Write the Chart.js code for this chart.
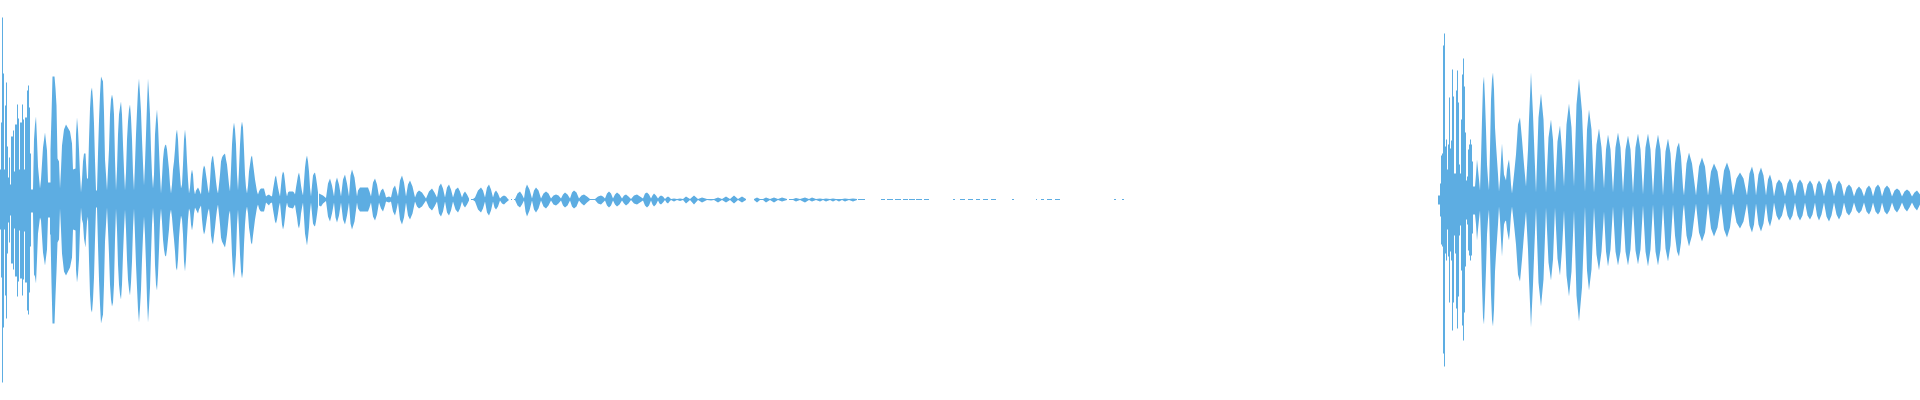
<!DOCTYPE html>
<html>
<head>
<meta charset="utf-8">
<title>Waveform</title>
<script src="https://cdn.jsdelivr.net/npm/chart.js@4"></script>
<style>
  html, body { margin: 0; padding: 0; background: #fff; }
  canvas { display: block; }
</style>
</head>
<body>
<canvas id="wave" width="1920" height="400"></canvas>
<script>
// attack transients, read column by column (held until the next time)
const attackTime = [
  0,1,2,3,4,5,6,7,8,9,10,11,13,14,15,17,18,19,20,22,23,24,25,27,28,29,30,31,32,33,
  34,
  1438,1440,1441,1442,1443,1444,1445,1446,1447,1448,1449,1450,1451,1452,1453,1454,1455,1456,
  1457,1458,1459,1460,1461,1462,1463,1464,1465,1466,1467,1468,1469,1470,1471,1472,1473,1474,1475
];
const attackUpper = [
  103,30,77,182,126,30,94,117,53,22,42,15,63,69,28,75,95,81,30,77,95,80,30,82,109,114,92,46,10,10,
  null,
  1,4,16,44,46,154,166,53,60,30,55,102,51,59,130,103,26,26,
  109,129,97,35,26,80,125,141,113,67,19,23,50,55,60,55,38,13,13
];
const attackLower = [
  -105,-30,-78,-183,-128,-30,-96,-119,-54,-23,-43,-16,-64,-70,-29,-77,-97,-82,-31,-79,-96,-80,-32,-83,-111,-115,-93,-47,-13,-13,
  null,
  -1,-5,-17,-45,-47,-154,-167,-54,-61,-30,-57,-103,-52,-61,-131,-103,-36,-54,
  -109,-129,-97,-36,-26,-71,-126,-141,-113,-67,-20,-25,-51,-56,-61,-56,-34,-15,-15
];

// first decay, 33 to 318
const decayTimeA = [
  33,34,35,36,37,38,40,41,43,45,47,48,50,50.5,51.5,52.5,54.5,55.5,56.5,57.5,59,60,
  61,62,64,66,70,72,73,75.5,76,77,78,79,80,81,82,83,84,85.5,86,87,88,
  89,90,91,92,93,94,95,96,97,98,99,100,101,103,104,105,106,107,
  108,109,110,111,112,113,114,115,116,117,118,119,120,121,122,123,124,125,
  126,127,128,129,130,131,132,133,134,135,136,137,138,139,140,141,142,143,144,
  145,146,147,148,149,150,151,152,153,154,155,156,157,158,159,160,161,
  162,163,164,165,166,167,168,169,170,171,172,173,174,175,176,177,178,179,180,181,
  182,183,184,185,186,187,188,189,190,191,192,193,194,195,196,198,199,201,
  202,203,204,205,206,207,208,209,210,211,212,213,214,215,216,217,218,
  219,220,221,222,223,224,225,226,227,228,229,230,231,232,233,234,235,236,237,238,
  239,240,241,242,243,244,245,246,247,248,249,250,251,252,253,254,255,256,257,258,
  259,260,261,264,265,266,267,269,270,272,273,274,275,276,277,278,279,280,
  281,282,283,284,285,286,287,288,289,293,294,295,296,297,298,299,300,301,302,303,
  304,305,306,307,308,309,310,311,312,313,314,315,316,317,318
];
const decayUpperA = [
  10,60,75,83,60,33,11,20,52,67,49,17,17,50,84,123,123,111,94,41,38,11,
  30,54,70,75,68,56,30,31,65,82,70,50,25,7,20,38,46,46,37,21,21,
  60,91,108,112,99,76,39,9,9,46,79,105,123,118,87,40,25,9,
  30,50,85,100,105,100,85,40,9,30,65,85,92,98,85,55,30,9,
  27,60,78,90,95,82,60,27,9,36,65,88,110,121,105,88,60,36,14,
  36,65,95,121,105,85,50,25,11,25,65,80,90,75,50,25,6,
  22,40,50,54,55,50,40,30,15,6,15,30,38,50,65,70,60,38,25,11,
  15,35,60,70,60,38,20,6,12,25,30,25,10,5,9,12,10,5,
  20,30,34,32,25,18,10,6,18,36,42,44,36,28,18,10,6,
  15,25,38,42,44,45,46,40,35,25,15,8,30,55,70,77,70,55,25,9,
  30,55,72,78,72,50,25,12,6,14,28,35,42,44,36,28,20,14,8,5,
  8,10,11,11,7,3,4,5,4,3,10,16,22,24,18,12,7,3,
  14,24,28,26,18,8,3,7,8,8,7,5,12,18,24,27,22,14,8,4,
  18,32,40,44,38,28,12,3,14,24,26,27,22,15,7
];
const decayLowerA = [
  -13,-75,-77,-84,-60,-34,-18,-21,-53,-66,-50,-18,-18,-35,-84,-124,-124,-96,-72,-43,-40,-9,
  -30,-54,-72,-76,-68,-58,-30,-31,-70,-83,-75,-60,-30,-8,-20,-24,-39,-48,-38,-22,-17,
  -60,-95,-110,-113,-100,-78,-40,-8,-8,-46,-80,-105,-124,-115,-85,-42,-25,-8,
  -30,-55,-85,-100,-107,-103,-85,-40,-9,-30,-65,-85,-95,-100,-85,-55,-30,-10,
  -30,-60,-80,-90,-96,-83,-62,-28,-9,-36,-65,-88,-110,-123,-108,-90,-60,-36,-17,
  -36,-65,-100,-123,-108,-88,-55,-25,-8,-25,-65,-85,-91,-75,-50,-22,-9,
  -22,-40,-50,-56,-57,-50,-40,-30,-15,-10,-18,-30,-40,-52,-68,-71,-60,-38,-25,-16,
  -20,-35,-62,-72,-60,-38,-20,-9,-12,-25,-31,-25,-14,-8,-10,-14,-10,-6,
  -20,-30,-35,-32,-25,-18,-12,-9,-18,-36,-42,-45,-36,-28,-18,-10,-5,
  -15,-25,-38,-42,-44,-46,-48,-42,-35,-25,-15,-11,-30,-55,-72,-79,-70,-55,-25,-10,
  -30,-55,-72,-79,-72,-45,-25,-12,-7,-14,-28,-35,-43,-45,-36,-28,-20,-14,-8,-5,
  -9,-11,-12,-12,-8,-3,-4,-6,-4,-3,-10,-16,-22,-24,-20,-14,-7,-3,
  -14,-25,-30,-26,-18,-8,-3,-7,-8,-9,-7,-5,-12,-18,-26,-29,-24,-14,-8,-3,
  -18,-34,-40,-46,-38,-28,-12,-3,-14,-24,-26,-27,-22,-15,-7
];

// quieter lobes, 319 to 865, breaking up into pieces
const decayTimeB = [
  319,321,323,326,328,330,332,334,335.5,337,339,341,343,345,347,349,350.5,352,354.5,357,
  358,360,368,369.5,371,373,375,377,379,381,383,385,386,389,391,393,395,396.5,398,
  400,402,404,406,408,410,412.5,415,417,419,422,426,429,432,434.5,437,
  439,441,443,445,447,449,451,453,455.5,458,460,462,463.5,465,467,469,
  470,471,473,475,478,481,483,485,487,489,491,493,494.5,496,498,500,502,504,506,508,509,
  510,511,512,513,514,515,517.5,520,522,524,525.5,527,529.5,532,534,536,538.5,541,
  543.5,546,548.5,551,553.5,556,558.5,561,563,565,567.5,570,572,574,576.5,579,581.5,584,587,590,595,
  598,601,603,605,607,609,611,613,615,617,619.5,622,624,626,628.5,631,634,637,640,643,
  645,647,649,651,652.5,654,656,658,659.5,661,663,665,666.5,668,669.5,671,
  674,677,680,683,686,690,694,698,702,707,711,714,718,722,726,730,734,738,742,746,
  747,754,757,760,763,766,770,774,778,782,787,
  788,789,793,796,800,805,809,812,816,820,823,826,830,833,836,839,842,845,849,853,857,
  857.5,858,865
];
const decayUpperB = [
  6,5,4,1.5,16,21,14,3,17,22,15,3,20,25,16,3,24,30,22,3,
  9,12,12,8,3,17,21,15,3,9,11,6,2,3,2,11,14,9,3,
  19,24,17,3,15,19,13,2,7,9,7,1,8,11,7,2,
  13,16,11,2,12,15,10,2,10,12,8,2,6,8,5,1,
  null,0.5,0.5,2,9,12,9,2,12,15,10,2,7,9,6,1,3,4,3,0.5,0.5,
  null,0.5,0.5,null,0.5,0.5,6,8,5,1,11,15,10,1,9,12,9,1,
  6,8,6,1,4,5,4,1,5,7,5,1,7,9,7,1,4,5,3,0.5,0.5,
  3,4,3,1,6,8,6,1,5,7,5,1,4,5,3,0.5,4,5,3,1,
  6,7,5,1,4,6,4,1,3,4,3,0.5,2,3,2,0.5,
  1,0.5,1,0.5,3,0.5,4,0.5,2,0.5,0.5,0.5,2,0.5,3,0.5,4,0.5,3,0.5,
  null,0.5,2,0.5,0.5,2,0.5,2,0.5,2,0.5,
  null,0.5,0.5,1.5,0.5,2,0.5,2,0.5,1,0.5,1,0.5,1,0.5,0.5,0.5,1,0.5,1,0.5,
  null,0.5,0.5
];
const decayLowerB = [
  -6,-7,-4,-1.5,-17,-22,-14,-3,-18,-23,-16,-3,-20,-25,-16,-3,-24,-30,-22,-3,
  -9,-12,-12,-8,-3,-17,-21,-15,-3,-9,-12,-6,-2,-3,-2,-12,-16,-10,-3,
  -20,-25,-18,-3,-16,-20,-14,-2,-7,-9,-7,-1,-8,-11,-7,-2,
  -14,-17,-12,-2,-13,-16,-11,-2,-10,-13,-9,-2,-6,-8,-5,-1,
  null,-0.5,-0.5,-2,-10,-13,-9,-2,-13,-16,-11,-2,-8,-10,-7,-1,-4,-5,-3,-0.5,-0.5,
  null,-0.5,-0.5,null,-0.5,-0.5,-6,-8,-5,-1,-12,-17,-11,-1,-10,-13,-9,-1,
  -7,-9,-6,-1,-5,-6,-4,-1,-6,-8,-6,-1,-7,-9,-7,-1,-4,-6,-3,-0.5,-0.5,
  -4,-5,-3,-1,-6,-8,-6,-1,-5,-7,-5,-1,-4,-6,-4,-0.5,-4,-5,-3,-1,
  -6,-8,-6,-1,-5,-7,-5,-1,-4,-5,-3,-0.5,-3,-4,-2,-0.5,
  -2,-0.5,-1.5,-0.5,-4,-0.5,-5,-0.5,-3,-0.5,-1,-0.5,-3,-0.5,-3,-0.5,-4,-0.5,-3,-0.5,
  null,-0.5,-3,-0.5,-0.5,-3,-0.5,-3,-0.5,-2,-0.5,
  null,-0.5,-0.5,-2,-0.5,-3,-0.5,-2,-0.5,-2,-0.5,-2,-0.5,-2,-0.5,-2,-0.5,-2,-0.5,-2,-0.5,
  null,-0.5,-0.5
];

// isolated dashes at the end of the first sound
const dashStart = [881,887,895,903,909,916,924,953,960,968,976,983,991,1012,1036,1041,1047,1055,1114,1122];
const dashEnd   = [885,893,901,908,915,922,929,955,965,973,980,988,996,1014,1037,1044,1052,1060,1116,1124];

// second sound, after its attack
const lateTime = [
  1475,1476,1477,1478,1479,1480,1481,1482,1483,1484,1485,1486,1487,1488,1489,1490,1491,1492,1493,1494,1495,1496,1497,1498,1499,
  1500,1501,1502,1503,1504,1505,1506,1507,1508,1509,1510,1511,1512,1514,1516,1518,1520,1522,1524,1526,
  1528,1529,1531,1533,1534.5,1536,1538.5,1541,1543.5,1546,1548.5,1551,1553,1555,1557.5,1560,1562,1564,
  1566.5,1569,1571.5,1574,1576.5,1579,1582,1585,1587,1589,1591.5,1594,1596.5,1599,1601.5,1604,1606,1608,1610.5,1613,
  1615.5,1618,1620.5,1623,1625.5,1628,1630.5,1633,1635.5,1638,1640.5,1643,1645.5,1648,1650.5,1653,1655.5,1658,1660.5,1663,1665.5,1668,1670.5,1673,
  1675,1677,1679,1681,1683,1684,1686.5,1689,1692,1696,1699,1702,1705,1708,1711,1714,1717.5,1721,1724,1727,1730,1733,1736.5,1740,1743.5,1747,
  1749.5,1752,1754,1756,1758.5,1761,1763.5,1766,1768,1770,1772,1774,1776.5,1779,1782,1785,1787.5,1790,1792.5,1795,1797.5,1800,1802.5,1805,1807.5,1810,1812.5,1815,
  1817,1819,1821.5,1824,1826.5,1829,1831.5,1834,1836.5,1839,1841.5,1844,1846.5,1849,1851.5,1854,1856.5,1859,1861.5,1864,1866.5,1869,1871,1873,
  1875.5,1878,1880,1882,1884.5,1887,1889.5,1892,1894.5,1897,1899.5,1902,1904.5,1907,1909.5,1912,1914.5,1917,1920
];
const lateUpper = [
  13,25,40,30,20,9,40,80,115,123,100,70,35,20,9,50,100,120,127,110,72,55,40,25,8,
  20,40,56,40,25,22,19,30,36,40,30,15,6,25,45,75,82,60,35,13,
  50,80,127,85,45,7,82,106,80,7,62,80,60,7,58,74,50,13,
  75,96,72,13,95,121,88,8,70,90,70,7,55,71,52,11,50,65,50,7,
  52,67,52,7,50,64,50,6,52,66,50,5,52,66,50,4,50,65,50,4,48,61,46,5,
  36,52,57,43,12,4,36,47,36,4,33,42,33,4,28,36,28,4,29,37,28,4,21,27,21,4,
  26,33,25,4,25,32,24,4,20,25,18,3,16,20,16,3,16,21,16,3,16,20,16,3,15,19,15,3,
  15,19,15,3,16,21,16,3,15,19,15,3,12,15,12,3,10,13,10,3,11,14,11,3,
  12,15,12,3,11,14,11,3,9,11,9,3,8,10,8,3,7,9,5
];
const lateLower = [
  -15,-25,-41,-30,-20,-11,-40,-85,-118,-125,-100,-70,-35,-20,-10,-50,-95,-120,-127,-110,-72,-55,-40,-25,-7,
  -20,-40,-57,-40,-25,-22,-21,-30,-36,-41,-30,-15,-7,-25,-45,-75,-82,-60,-35,-12,
  -50,-80,-128,-85,-45,-8,-83,-107,-80,-8,-63,-81,-60,-8,-59,-76,-50,-11,
  -76,-97,-72,-11,-96,-122,-88,-7,-71,-91,-70,-8,-55,-71,-52,-12,-52,-67,-50,-7,
  -52,-66,-52,-7,-52,-66,-50,-6,-51,-65,-50,-6,-52,-67,-50,-5,-52,-66,-50,-5,-49,-62,-46,-5,
  -36,-52,-57,-43,-12,-5,-36,-47,-36,-4,-33,-42,-33,-4,-29,-37,-28,-4,-30,-38,-28,-4,-23,-29,-22,-4,
  -26,-33,-25,-4,-25,-32,-24,-4,-21,-27,-19,-3,-16,-21,-16,-3,-16,-21,-16,-3,-16,-21,-16,-3,-16,-20,-15,-3,
  -16,-21,-15,-3,-17,-22,-16,-3,-15,-20,-15,-3,-13,-16,-12,-3,-11,-14,-11,-3,-12,-15,-11,-3,
  -12,-15,-12,-3,-12,-15,-11,-3,-10,-13,-9,-3,-9,-12,-8,-3,-8,-11,-5
];

const waveColor = '#5dade2';

function toPoints(times, values) {
    return times.map(function (t, i) { return {x: t, y: values[i]}; });
}

function dashPoints(value) {
    const pts = [];
    dashStart.forEach(function (s, i) {
        pts.push({x: s, y: value}, {x: dashEnd[i], y: value}, {x: dashEnd[i], y: null});
    });
    return pts;
}

function envelope(upper, lower, stepped) {
    return [
        {data: upper, fill: '+1', backgroundColor: waveColor, borderWidth: 0, pointRadius: 0, stepped: stepped, spanGaps: false},
        {data: lower, fill: false, backgroundColor: waveColor, borderWidth: 0, pointRadius: 0, stepped: stepped, spanGaps: false}
    ];
}

new Chart(document.getElementById('wave'), {
    type: 'line',
    data: {
        datasets: [].concat(
            envelope(toPoints(attackTime, attackUpper), toPoints(attackTime, attackLower), 'after'),
            envelope(toPoints(decayTimeA, decayUpperA), toPoints(decayTimeA, decayLowerA), false),
            envelope(toPoints(decayTimeB, decayUpperB), toPoints(decayTimeB, decayLowerB), false),
            envelope(dashPoints(0.5), dashPoints(-0.5), false),
            envelope(toPoints(lateTime, lateUpper), toPoints(lateTime, lateLower), false)
        )
    },
    options: {
        responsive: false,
        animation: false,
        devicePixelRatio: 1,
        layout: {padding: 0},
        plugins: {legend: {display: false}, tooltip: {enabled: false}},
        scales: {
            x: {type: 'linear', min: 0, max: 1920, display: false},
            y: {min: -200.5, max: 199.5, display: false}
        }
    }
});
</script>
</body>
</html>
